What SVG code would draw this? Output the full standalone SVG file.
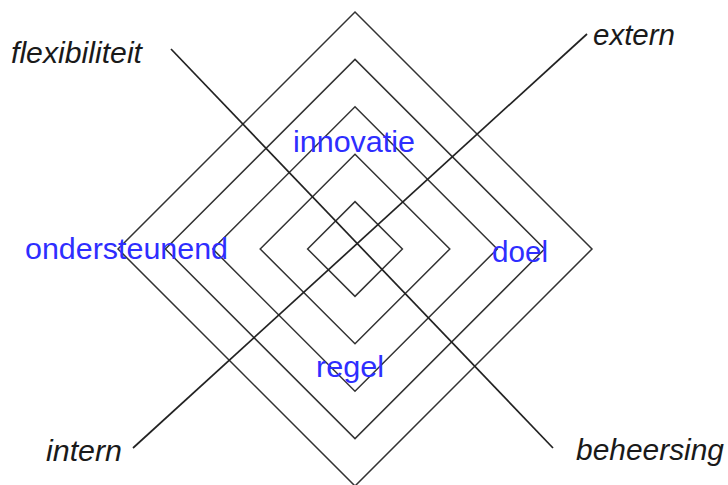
<svg xmlns="http://www.w3.org/2000/svg" width="728" height="485" viewBox="0 0 728 485">
<style>
.d{fill:none;stroke:#333;stroke-width:1.5}
.ax{fill:none;stroke:#222;stroke-width:1.7}
.k{font-family:"Liberation Sans",Arial,sans-serif;font-style:italic;font-size:29px;fill:#1a1a1a}
.b{font-family:"Liberation Sans",Arial,sans-serif;font-size:30px;fill:#2e2eff}
</style>
<rect width="728" height="485" fill="#fff"/>
<g id="diamonds">
<polygon class="d" points="355,12 592,249 355,486 118,249"/>
<polygon class="d" points="355,59.4 544.6,249 355,438.6 165.4,249"/>
<polygon class="d" points="355,106.8 497.2,249 355,391.2 212.8,249"/>
<polygon class="d" points="355,154.2 449.8,249 355,343.8 260.2,249"/>
<polygon class="d" points="355,201.6 402.4,249 355,296.4 307.6,249"/>
</g>
<g id="connectors">
<line class="ax" x1="171" y1="49" x2="553" y2="448"/>
<line class="ax" x1="133" y1="448" x2="587" y2="34"/>
</g>
<g id="flexibiliteit"><text class="k" x="11" y="63" textLength="131" lengthAdjust="spacingAndGlyphs">flexibiliteit</text></g>
<g id="extern"><text class="k" x="593" y="45" textLength="82" lengthAdjust="spacingAndGlyphs">extern</text></g>
<g id="intern"><text class="k" x="46" y="461" textLength="76" lengthAdjust="spacingAndGlyphs">intern</text></g>
<g id="beheersing"><text class="k" x="576" y="460" textLength="148" lengthAdjust="spacingAndGlyphs">beheersing</text></g>
<g id="innovatie"><text class="b" x="293" y="152" textLength="122" lengthAdjust="spacingAndGlyphs">innovatie</text></g>
<g id="ondersteunend"><text class="b" x="25" y="259" textLength="203" lengthAdjust="spacingAndGlyphs">ondersteunend</text></g>
<g id="doel"><text class="b" x="492" y="262" textLength="56" lengthAdjust="spacingAndGlyphs">doel</text></g>
<g id="regel"><text class="b" x="316" y="377" textLength="68" lengthAdjust="spacingAndGlyphs">regel</text></g>
</svg>
